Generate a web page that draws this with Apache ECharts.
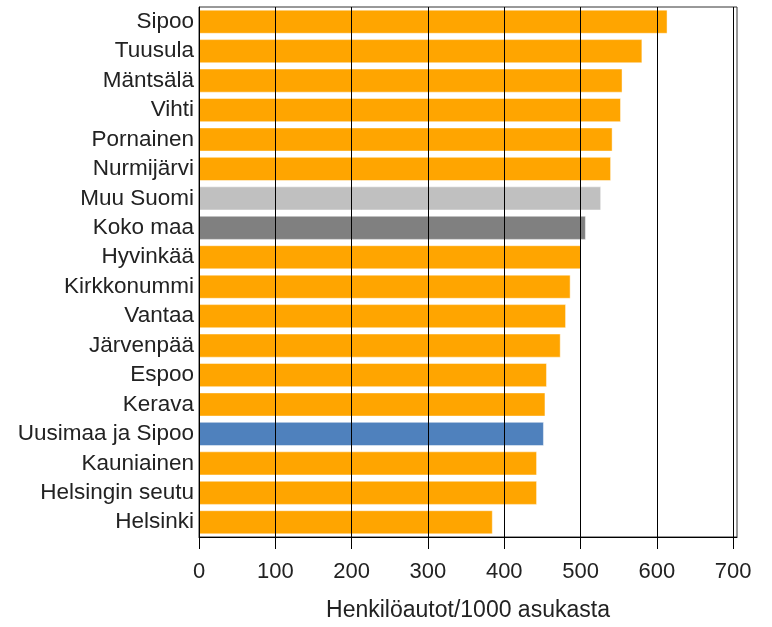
<!DOCTYPE html>
<html>
<head>
<meta charset="utf-8">
<script src="https://cdn.jsdelivr.net/npm/echarts@6/dist/echarts.min.js"></script>
<style>html,body{margin:0;padding:0;background:#fff}#c{width:772px;height:627px}</style>
</head>
<body>
<div id="c"></div>
<script>
const categories = ["Sipoo","Tuusula","Mäntsälä","Vihti","Pornainen","Nurmijärvi","Muu Suomi","Koko maa","Hyvinkää","Kirkkonummi","Vantaa","Järvenpää","Espoo","Kerava","Uusimaa ja Sipoo","Kauniainen","Helsingin seutu","Helsinki"];
const values = [614,581,555,553,542,540,527,507,501,487,481,474,456,454,452,443,443,385];
const barColors = {"Muu Suomi":"#C0C0C0","Koko maa":"#808080","Uusimaa ja Sipoo":"#4F81BD"};
const defaultColor = "#FFA500";
const xTickValues = [0,100,200,300,400,500,600,700];
const xAxisMax = 705;
const axisTitle = "Henkilöautot/1000 asukasta";

const font = "Liberation Sans, Arial, sans-serif";
const chart = echarts.init(document.getElementById('c'));
chart.setOption({
  animation:false,
  grid:{left:199, top:7, right:35, bottom:90, show:true, borderColor:'#333', borderWidth:1, outerBoundsMode:'none', containLabel:false},
  xAxis:{
    type:'value', min:0, max:xAxisMax, interval:100, z:10,
    axisLine:{show:true, lineStyle:{color:'#000'}},
    axisTick:{show:true, length:12, lineStyle:{color:'#000'}, customValues:xTickValues},
    axisLabel:{fontSize:22, fontFamily:font, color:'#222', margin:24, customValues:xTickValues},
    splitLine:{show:true, lineStyle:{color:'#000', width:1}},
    name:axisTitle, nameLocation:'middle', nameGap:62,
    nameTextStyle:{fontSize:23, fontFamily:font, color:'#222'}
  },
  yAxis:{
    type:'category', data:categories, inverse:true,
    axisLine:{show:true, lineStyle:{color:'#333'}},
    axisTick:{show:false},
    axisLabel:{fontSize:22.5, fontFamily:font, color:'#222', margin:5, interval:0, hideOverlap:false}
  },
  series:[{
    type:'bar', barCategoryGap:'18%',
    data:values.map((v,i)=>({value:v, itemStyle:{color:barColors[categories[i]]||defaultColor}})),
    itemStyle:{borderColor:'rgba(255,255,255,0.45)', borderWidth:1}
  }]
});
</script>
</body>
</html>
